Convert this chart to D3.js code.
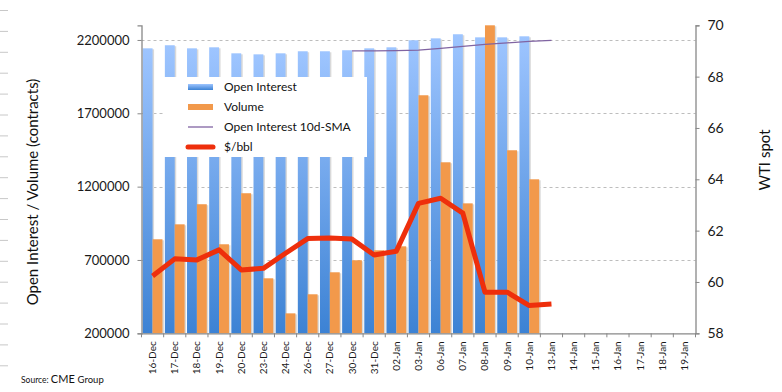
<!DOCTYPE html>
<html>
<head>
<meta charset="utf-8">
<script src="https://cdn.jsdelivr.net/npm/d3@7"></script>
<style>
  body { margin: 0; background: #fff; }
  svg { display: block; font-family: Lato, "Open Sans", sans-serif; }
</style>
</head>
<body>
<div id="chart"></div>
<script>
// data
var dates = ["16-Dec","17-Dec","18-Dec","19-Dec","20-Dec","23-Dec","24-Dec","26-Dec","27-Dec","30-Dec",
  "31-Dec","02-Jan","03-Jan","06-Jan","07-Jan","08-Jan","09-Jan","10-Jan","13-Jan","14-Jan",
  "15-Jan","16-Jan","17-Jan","18-Jan","19-Jan"];
var openInterest = [2143000,2164000,2143000,2150000,2109000,2102000,2109000,2123000,2123000,2130000,
  2143000,2150000,2198000,2211000,2239000,2218000,2218000,2225000];
var volume = [841000,943000,1080000,807000,1155000,575000,336000,466000,616000,698000,
  766000,793000,1823000,1366000,1086000,2300000,1448000,1250000];
// 10d SMA starts at 30-Dec
var smaDates = ["30-Dec","31-Dec","02-Jan","03-Jan","06-Jan","07-Jan","08-Jan","09-Jan","10-Jan","13-Jan"];
var smaValues = [2125000,2126000,2128000,2131000,2143000,2157000,2170000,2180000,2190000,2197000];
var wti = [60.23,60.9,60.86,61.25,60.47,60.53,61.12,61.69,61.71,61.67,
  61.05,61.2,63.06,63.26,62.68,59.6,59.6,59.08,59.14];
var leftTicks = [200000,700000,1200000,1700000,2200000];
var rightTicks = [58,60,62,64,66,68,70];

var width = 782, height = 392;
var margin = { top: 25.3, bottom: 333.3, left: 141.5, right: 695.5 };

var svg = d3.select('#chart').append('svg')
  .attr('width', width)
  .attr('height', height);

var defs = svg.append('defs');
var grad = defs.append('linearGradient')
  .attr('id', 'oiGrad').attr('x1', 0).attr('y1', 0).attr('x2', 0).attr('y2', 1);
grad.append('stop').attr('offset', '0%').attr('stop-color', '#9ec5ff');
grad.append('stop').attr('offset', '100%').attr('stop-color', '#3c82d4');

// gray marks on the left edge of the picture
svg.append('g')
  .selectAll('line')
  .data(d3.range(18))
  .join('line')
  .attr('x1', 0).attr('x2', 8)
  .attr('y1', d => 10.5 + d * 20.9).attr('y2', d => 10.5 + d * 20.9)
  .attr('stroke', '#c8c8c8');

var x = d3.scaleBand()
  .domain(dates)
  .range([margin.left, margin.right]);

var x1 = d3.scaleBand()
  .domain(['oi', 'vol'])
  .range([1.2, x.bandwidth() - 1.2]);

var y = d3.scaleLinear()
  .domain([200000, 2300000])
  .range([margin.bottom, margin.top]);

var y2 = d3.scaleLinear()
  .domain([58, 70])
  .range([margin.bottom, margin.top]);

// gridlines
svg.append('g')
  .selectAll('line')
  .data(leftTicks.slice(1))
  .join('line')
  .attr('x1', margin.left).attr('x2', margin.right)
  .attr('y1', d => Math.round(y(d)) + 0.5).attr('y2', d => Math.round(y(d)) + 0.5)
  .attr('stroke', '#bdbdbd')
  .attr('stroke-dasharray', '3,3');

// bar shadows
var bars = svg.append('g');
bars.selectAll('rect.sh1')
  .data(openInterest)
  .join('rect')
  .attr('class', 'sh1')
  .attr('x', (d, i) => x(dates[i]) + x1('oi') + 1.5)
  .attr('y', d => y(d) + 1)
  .attr('width', x1.bandwidth())
  .attr('height', d => y(200000) - y(d) - 1)
  .attr('fill', '#d9d9d9');
bars.selectAll('rect.sh2')
  .data(volume)
  .join('rect')
  .attr('class', 'sh2')
  .attr('x', (d, i) => x(dates[i]) + x1('vol') + 1.5)
  .attr('y', d => y(d) + 1)
  .attr('width', x1.bandwidth())
  .attr('height', d => y(200000) - y(d) - 1)
  .attr('fill', '#d9d9d9');

bars.selectAll('rect.oi')
  .data(openInterest)
  .join('rect')
  .attr('class', 'oi')
  .attr('x', (d, i) => x(dates[i]) + x1('oi'))
  .attr('y', d => y(d))
  .attr('width', x1.bandwidth())
  .attr('height', d => y(200000) - y(d))
  .attr('fill', 'url(#oiGrad)');

bars.selectAll('rect.vol')
  .data(volume)
  .join('rect')
  .attr('class', 'vol')
  .attr('x', (d, i) => x(dates[i]) + x1('vol'))
  .attr('y', d => y(d))
  .attr('width', x1.bandwidth())
  .attr('height', d => y(200000) - y(d))
  .attr('fill', '#f2994b');

// SMA line
var smaLine = d3.line()
  .x((d, i) => x(smaDates[i]) + x.bandwidth() / 2)
  .y(d => y(d));
svg.append('path')
  .datum(smaValues)
  .attr('d', smaLine)
  .attr('fill', 'none')
  .attr('stroke', '#8064a2')
  .attr('stroke-width', 1.3);

// WTI line
var wtiLine = d3.line()
  .x((d, i) => x(dates[i]) + x.bandwidth() / 2)
  .y(d => y2(d));
svg.append('path')
  .datum(wti)
  .attr('d', wtiLine)
  .attr('fill', 'none')
  .attr('stroke', '#ee2f0c')
  .attr('stroke-width', 5)
  .attr('stroke-linejoin', 'round');

// axes
function leftAxis(g) {
  g.attr('transform', `translate(${margin.left},0)`)
    .call(d3.axisLeft(y).tickValues(leftTicks).tickSize(4).tickPadding(8).tickFormat(d3.format('d')))
    .attr('font-size', 13)
    .attr('font-family', 'Lato, sans-serif');
}
function rightAxis(g) {
  g.attr('transform', `translate(${margin.right},0)`)
    .call(d3.axisRight(y2).tickValues(rightTicks).tickSize(4).tickPadding(8))
    .attr('font-size', 14)
    .attr('font-family', 'Lato, sans-serif');
}
function bottomAxis(g) {
  g.attr('transform', `translate(0,${margin.bottom})`)
    .call(d3.axisBottom(x).tickSize(0).tickPadding(0))
    .attr('font-size', 10)
    .attr('font-family', 'Lato, sans-serif');
  g.selectAll('.tick text')
    .attr('transform', 'rotate(-90)')
    .attr('text-anchor', 'end')
    .attr('x', -8)
    .attr('y', 0)
    .attr('dy', '0.35em');
}

svg.append('g').call(leftAxis);
svg.append('g').call(rightAxis);
svg.append('g').call(bottomAxis);

// category boundary ticks on x axis
svg.append('g')
  .selectAll('line')
  .data(dates.concat(['end']))
  .join('line')
  .attr('x1', (d, i) => margin.left + i * x.step())
  .attr('x2', (d, i) => margin.left + i * x.step())
  .attr('y1', margin.bottom).attr('y2', margin.bottom + 4)
  .attr('stroke', '#888');

svg.selectAll('.domain').attr('stroke', '#888').attr('stroke-width', 1.3);
svg.selectAll('.tick line').attr('stroke', '#888');
svg.selectAll('.tick text').attr('fill', '#1a1a1a');

// axis titles
svg.append('text')
  .attr('transform', 'translate(38,192) rotate(-90)')
  .attr('text-anchor', 'middle')
  .attr('font-size', 15)
  .attr('fill', '#111')
  .text('Open Interest / Volume (contracts)');

svg.append('text')
  .attr('transform', 'translate(770,160) rotate(-90)')
  .attr('text-anchor', 'middle')
  .attr('font-size', 15)
  .attr('fill', '#111')
  .text('WTI spot');

// legend
var legend = svg.append('g');
legend.append('rect')
  .attr('x', 163).attr('y', 77).attr('width', 204).attr('height', 80)
  .attr('fill', '#fff');
var items = [
  { name: 'Open Interest', kind: 'oi' },
  { name: 'Volume', kind: 'vol' },
  { name: 'Open Interest 10d-SMA', kind: 'sma' },
  { name: '$/bbl', kind: 'wti' }
];
var row = legend.selectAll('g')
  .data(items)
  .join('g')
  .attr('transform', (d, i) => `translate(0,${87 + i * 20})`);
row.filter(d => d.kind === 'oi').append('rect')
  .attr('x', 188).attr('y', -3).attr('width', 25).attr('height', 6)
  .attr('fill', 'url(#oiGrad)');
row.filter(d => d.kind === 'vol').append('rect')
  .attr('x', 188).attr('y', -3).attr('width', 25).attr('height', 6)
  .attr('fill', '#f2994b');
row.filter(d => d.kind === 'sma').append('line')
  .attr('x1', 188).attr('x2', 213)
  .attr('stroke', '#8064a2').attr('stroke-width', 1.3);
row.filter(d => d.kind === 'wti').append('line')
  .attr('x1', 188).attr('x2', 213)
  .attr('stroke', '#ee2f0c').attr('stroke-width', 5).attr('stroke-linecap', 'round');
row.append('text')
  .attr('x', 224).attr('dy', '0.35em')
  .attr('font-size', 12)
  .attr('fill', '#111')
  .text(d => d.name);

// source
var src = svg.append('text')
  .attr('x', 21).attr('y', 383)
  .attr('fill', '#111');
src.append('tspan').attr('font-size', 8.5).text('Source: ');
src.append('tspan').attr('font-size', 11).text('CME ');
src.append('tspan').attr('font-size', 9.5).text('Group');
</script>
</body>
</html>
